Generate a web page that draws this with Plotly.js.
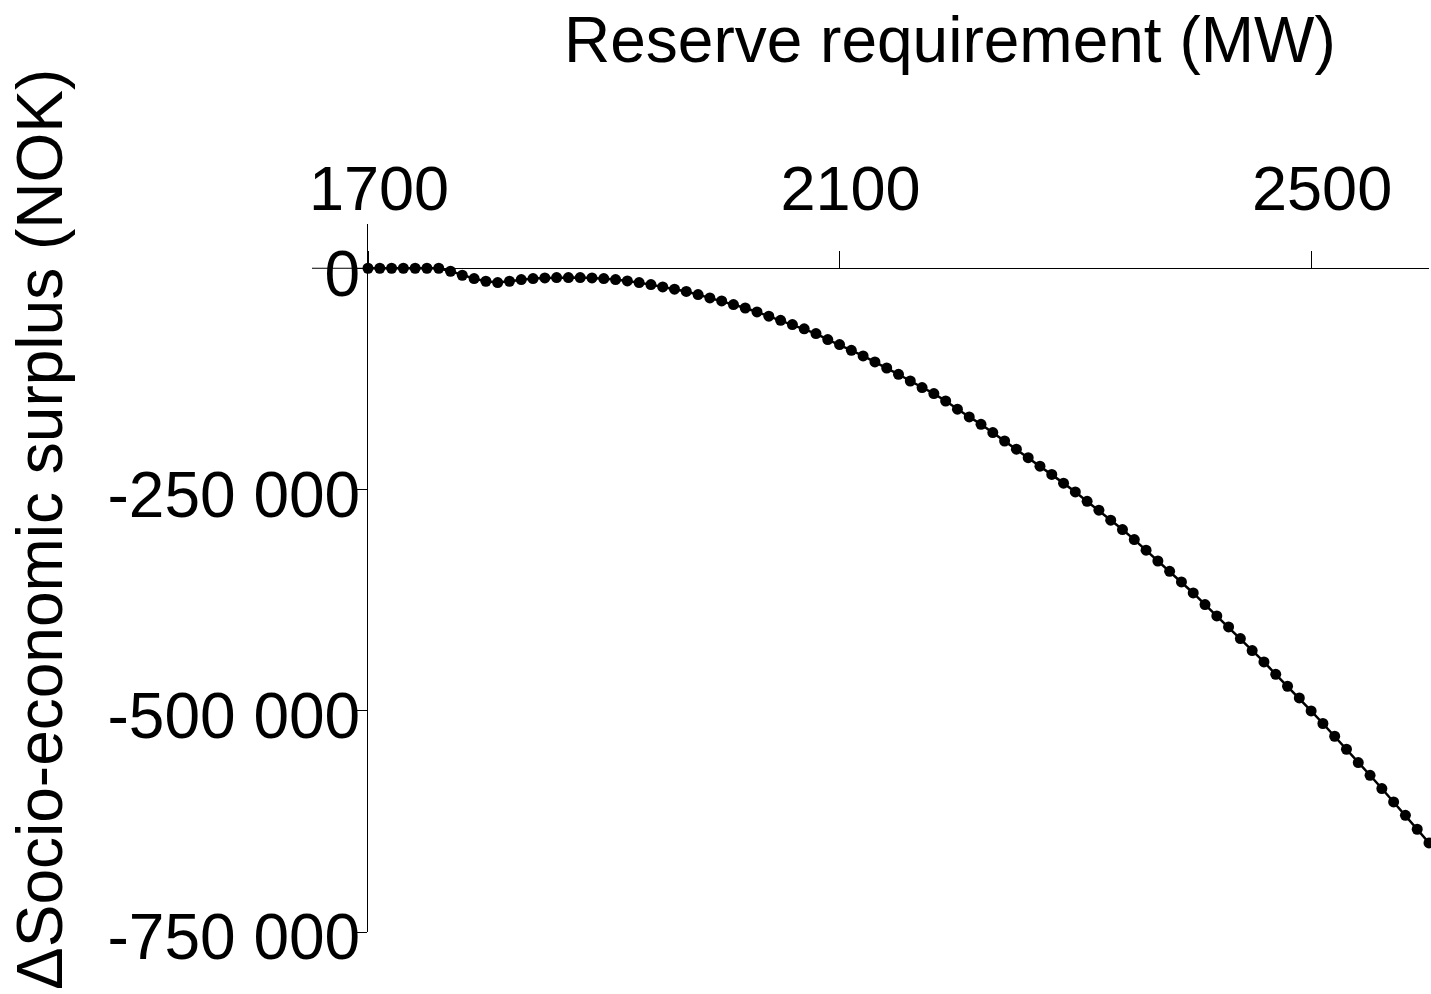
<!DOCTYPE html>
<html>
<head>
<meta charset="utf-8">
<script src="https://cdn.plot.ly/plotly-3.0.1.min.js"></script>
<style>html,body{margin:0;padding:0;background:#fff;}#chart{width:1431px;height:994px;}</style>
</head>
<body>
<div id="chart"></div>
<script>
// Reserve requirement (MW), every 10 MW from 1700 to 2600
const reserveMW = [
  1700,1710,1720,1730,1740,1750,1760,1770,1780,1790,
  1800,1810,1820,1830,1840,1850,1860,1870,1880,1890,
  1900,1910,1920,1930,1940,1950,1960,1970,1980,1990,
  2000,2010,2020,2030,2040,2050,2060,2070,2080,2090,
  2100,2110,2120,2130,2140,2150,2160,2170,2180,2190,
  2200,2210,2220,2230,2240,2250,2260,2270,2280,2290,
  2300,2310,2320,2330,2340,2350,2360,2370,2380,2390,
  2400,2410,2420,2430,2440,2450,2460,2470,2480,2490,
  2500,2510,2520,2530,2540,2550,2560,2570,2580,2590,
  2600
];
// Change in socio-economic surplus (NOK)
const deltaSurplus = [
  0,0,0,0,0,0,0,-3400,-7900,-11700,
  -14700,-16200,-14700,-12800,-11700,-10900,-10500,-10500,-10500,-10900,
  -11700,-12800,-14300,-16200,-18500,-21100,-23700,-26200,-29800,-33500,
  -36900,-41100,-44900,-49400,-54200,-58800,-63700,-68500,-73800,-80600,
  -86200,-92700,-99100,-105900,-112700,-119800,-127400,-134800,-141600,-150000,
  -159300,-168000,-176300,-185700,-195200,-204500,-214000,-223700,-233000,-242800,
  -252800,-263300,-273400,-284700,-295300,-306600,-318600,-330800,-342400,-354500,
  -366900,-380000,-392900,-405300,-418500,-432000,-444800,-458800,-472300,-485500,
  -500200,-514400,-528800,-543500,-558500,-572900,-587900,-603000,-618100,-633900,
  -649400
];
const xTickVals = [1700, 2100, 2500];
const xTickText = ["1700", "2100", "2500"];
const yTickVals = [0, -250000, -500000, -750000];
const yTickText = ["0", "-250 000", "-500 000", "-750 000"];

const FONT = "Liberation Sans, Arial, sans-serif";

const trace = {
  x: reserveMW,
  y: deltaSurplus,
  type: "scatter",
  mode: "lines+markers",
  line: {color: "#000", width: 2.5},
  marker: {color: "#000", size: 11, symbol: "circle"},
  cliponaxis: false,
  hoverinfo: "skip"
};

const yMin = -750000, yMax = 50000;
const layout = {
  width: 1431,
  height: 994,
  margin: {l: 368, r: 2, t: 224, b: 62, pad: 0},
  paper_bgcolor: "#fff",
  plot_bgcolor: "#fff",
  showlegend: false,
  font: {family: FONT, color: "#000", size: 63},
  xaxis: {
    range: [1700, 2600],
    side: "top",
    anchor: "free",
    position: (0 - yMin) / (yMax - yMin),
    showgrid: false,
    zeroline: false,
    showline: true,
    linecolor: "#000",
    linewidth: 1,
    ticks: "outside",
    ticklen: 17,
    tickwidth: 1,
    tickcolor: "#000",
    tickvals: xTickVals,
    ticktext: xTickText,
    tickfont: {family: FONT, size: 63, color: "#000"},
    ticklabelshift: 11,
    ticklabelstandoff: 16
  },
  yaxis: {
    range: [yMin, yMax],
    showgrid: false,
    zeroline: false,
    showline: true,
    linecolor: "#000",
    linewidth: 1,
    ticks: "outside",
    ticklen: 11,
    tickwidth: 1,
    tickcolor: "#000",
    tickvals: yTickVals,
    ticktext: yTickText,
    tickfont: {family: FONT, size: 64, color: "#000"},
    ticklabelshift: 5,
    ticklabelstandoff: -17
  },
  shapes: [{
    type: "line", xref: "paper", yref: "y",
    x0: (312 - 368) / 1061, x1: 0, y0: 0, y1: 0,
    line: {color: "#000", width: 1}
  }],
  annotations: [
    {
      text: "Reserve requirement (MW)",
      xref: "paper", yref: "paper",
      x: (950 - 368) / 1061, y: (932 - 40) / 708,
      xanchor: "center", yanchor: "middle",
      showarrow: false,
      font: {family: FONT, size: 64, color: "#000"}
    },
    {
      text: "ΔSocio-economic surplus (NOK)",
      xref: "paper", yref: "paper",
      x: (40 - 368) / 1061, y: (932 - 530) / 708,
      xanchor: "center", yanchor: "middle",
      textangle: -90,
      showarrow: false,
      font: {family: FONT, size: 64, color: "#000"}
    }
  ]
};

Plotly.newPlot("chart", [trace], layout, {displayModeBar: false, staticPlot: true});
</script>
</body>
</html>
